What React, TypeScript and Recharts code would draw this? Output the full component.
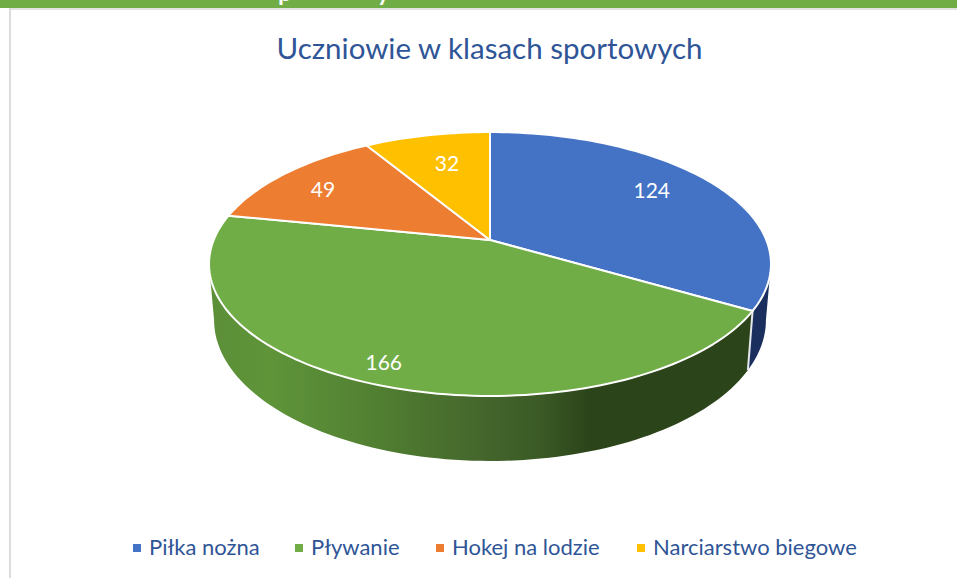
import { Legend, Pie, PieChart } from 'recharts'

const NAMES = ['Piłka nożna', 'Pływanie', 'Hokej na lodzie', 'Narciarstwo biegowe']
const VALUES = [124, 166, 49, 32]
const COLORS = ['#4472c4', '#70ad47', '#ed7d31', '#ffc000']
const WALL_FILLS = ['#1b2f5e', 'url(#greenWall)', 'none', 'none']

const rows = NAMES.map((name, i) => ({
  name,
  value: VALUES[i],
  fill: COLORS[i],
  wall: WALL_FILLS[i],
}))

// 3D tilt: the flat pie is put through a perspective, apex sits above the ellipse centre
const TILT = 0.1818
const SQUASH = 0.4618
// lower rim of the cylinder
const RIM_DROP = 54.4
const RIM_SX = 0.982
const RIM_SY = 1.068
// angles (recharts degrees) where the top ellipse is widest
const WALL_FROM = -10.5
const WALL_TO = -169.5
const LABEL_RADII = [0.759, 0.873, 0.787, 0.709]
const LABEL_NUDGE = [4, -1.2, 1.2, -1.2]
const LEGEND_X = [133, 295, 436, 637]

const TEXT_BLUE = '#2f5597'
const FONT = 'Lato, sans-serif'

function project(cx: number, cy: number, r: number, deg: number, f = 1) {
  const a = (deg * Math.PI) / 180
  const u = Math.cos(a) * f
  const v = -Math.sin(a) * f
  const d = 1 - TILT * v
  return { x: cx + (r * u) / d, y: cy + (r * SQUASH * v) / d }
}

function rim(cx: number, cy: number, r: number, deg: number) {
  const p = project(cx, cy, r, deg)
  return {
    x: cx + (p.x - cx) * RIM_SX,
    y: cy + RIM_DROP + (p.y - cy) * RIM_SY,
  }
}

function sweep(from: number, to: number) {
  const n = Math.max(2, Math.ceil(Math.abs(to - from) / 1.5))
  return Array.from({ length: n + 1 }, (_, i) => from + ((to - from) * i) / n)
}

const toPath = (pts: { x: number; y: number }[]) =>
  pts.map((p, i) => `${i ? 'L' : 'M'}${p.x.toFixed(2)} ${p.y.toFixed(2)}`).join(' ') + ' Z'

const TopSector = (props: any) => {
  const { cx, cy, outerRadius, startAngle, endAngle, fill } = props
  const pts = [{ x: cx, y: cy }, ...sweep(startAngle, endAngle).map(d => project(cx, cy, outerRadius, d))]
  return <path d={toPath(pts)} fill={fill} stroke="#fff" strokeWidth={2} strokeLinejoin="round" />
}

const WallSector = (props: any) => {
  const { cx, cy, outerRadius, startAngle, endAngle, wall } = props
  const from = Math.min(startAngle, WALL_FROM)
  const to = Math.max(endAngle, WALL_TO)
  if (wall === 'none' || from <= to) return null
  const angles = sweep(from, to)
  const upper = angles.map(d => project(cx, cy, outerRadius, d))
  const lower = angles.map(d => rim(cx, cy, outerRadius, d)).reverse()
  const joint = startAngle < WALL_FROM
  return (
    <g>
      <path d={toPath([...upper, ...lower])} fill={wall} />
      {joint && (
        <line
          x1={upper[0].x}
          y1={upper[0].y}
          x2={lower[lower.length - 1].x}
          y2={lower[lower.length - 1].y}
          stroke="#e4e7ea"
          strokeWidth={2}
        />
      )}
    </g>
  )
}

const renderLabel = (props: any) => {
  const { cx, cy, outerRadius, midAngle, index, value } = props
  const p = project(cx, cy, outerRadius, midAngle + LABEL_NUDGE[index], LABEL_RADII[index])
  return (
    <text x={p.x} y={p.y} fill="#fff" fontSize={21} fontFamily={FONT} textAnchor="middle" dominantBaseline="central">
      {value}
    </text>
  )
}

const renderLegend = (props: any) => (
  <div style={{ position: 'relative', height: 34, fontFamily: FONT, fontSize: 22, color: TEXT_BLUE }}>
    {(props.payload ?? [])
      .filter((item: any) => item.type !== 'none')
      .map((item: any, i: number) => (
        <div key={item.value} style={{ position: 'absolute', left: LEGEND_X[i], top: 0, whiteSpace: 'nowrap', lineHeight: '34px' }}>
          <span style={{ display: 'inline-block', width: 8, height: 8, marginRight: 8, marginBottom: 3, background: item.color }} />
          {item.value}
        </div>
      ))}
  </div>
)

export default function App() {
  return (
    <div style={{ position: 'absolute', left: 0, top: 0, width: 957, height: 578, overflow: 'hidden', background: '#fff' }}>
      {/* page furniture behind the pasted chart */}
      <div style={{ position: 'absolute', left: 0, top: 0, width: 957, height: 8, background: '#70ad47', overflow: 'hidden' }}>
        <span style={{ position: 'absolute', left: 278, top: -23, color: '#fff', fontFamily: FONT, fontWeight: 700, fontSize: 24 }}>p</span>
        <span style={{ position: 'absolute', left: 377, top: -23, color: '#fff', fontFamily: FONT, fontWeight: 700, fontSize: 24 }}>y</span>
      </div>
      <div style={{ position: 'absolute', left: 9, top: 8, width: 948, height: 2, background: '#e2e2e2' }} />
      <div style={{ position: 'absolute', left: 9, top: 8, width: 2, height: 570, background: '#dcdcdc' }} />

      <PieChart width={957} height={578} margin={{ top: 0, right: 0, bottom: 0, left: 0 }} style={{ position: 'absolute', left: 0, top: 0 }}>
        <defs>
          <linearGradient id="greenWall" gradientUnits="userSpaceOnUse" x1={210} y1={0} x2={750} y2={0}>
            <stop offset="0" stopColor="#5c8f38" />
            <stop offset="0.11" stopColor="#5f9439" />
            <stop offset="0.24" stopColor="#568735" />
            <stop offset="0.35" stopColor="#4e7a30" />
            <stop offset="0.48" stopColor="#46692d" />
            <stop offset="0.61" stopColor="#3b5a26" />
            <stop offset="0.70" stopColor="#2c441a" />
            <stop offset="1" stopColor="#2c441a" />
          </linearGradient>
        </defs>
        <text x={489.5} y={59} textAnchor="middle" fill={TEXT_BLUE} fontFamily={FONT} fontSize={29.5}>
          Uczniowie w klasach sportowych
        </text>
        <Pie
          data={rows}
          dataKey="value"
          nameKey="name"
          cx={490}
          cy={240}
          outerRadius={276.3}
          startAngle={90}
          endAngle={-270}
          paddingAngle={0}
          legendType="none"
          shape={WallSector}
          isAnimationActive={false}
        />
        <Pie
          data={rows}
          dataKey="value"
          nameKey="name"
          cx={490}
          cy={240}
          outerRadius={276.3}
          startAngle={90}
          endAngle={-270}
          paddingAngle={0}
          shape={TopSector}
          label={renderLabel}
          labelLine={false}
          isAnimationActive={false}
        />
        <Legend content={renderLegend} verticalAlign="bottom" itemSorter={null} wrapperStyle={{ left: 0, top: 530, bottom: 'auto', width: 957 }} />
      </PieChart>
    </div>
  )
}
